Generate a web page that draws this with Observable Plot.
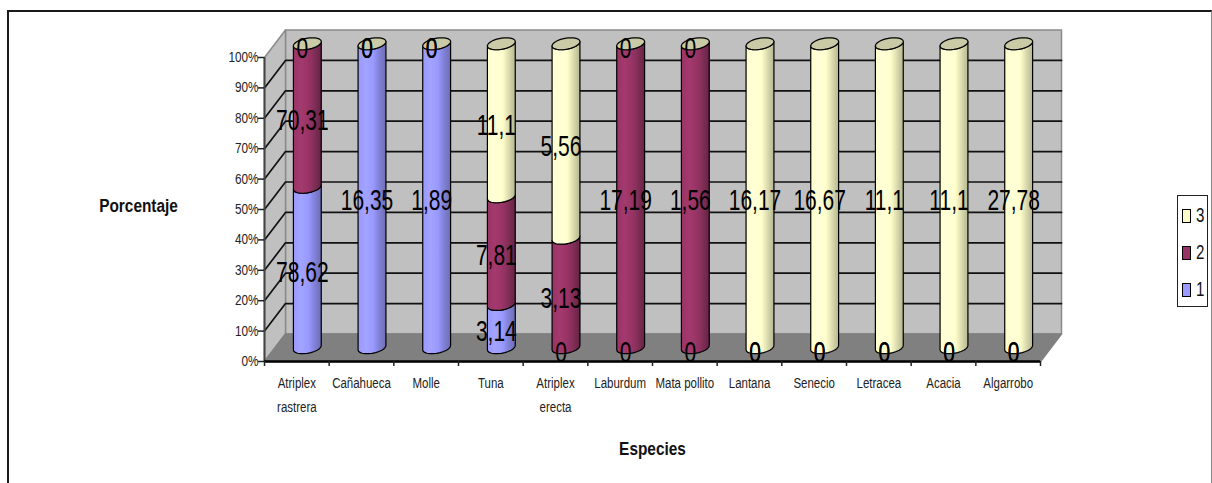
<!DOCTYPE html>
<html>
<head>
<meta charset="utf-8">
<script src="https://cdn.jsdelivr.net/npm/d3@7"></script>
<script src="https://cdn.jsdelivr.net/npm/@observablehq/plot@0.6"></script>
<style>
  html, body { margin: 0; background: #fff; }
  #chart { position: relative; width: 1212px; height: 483px; overflow: hidden; }
  #chart svg { display: block; position: absolute; left: 0; top: 0; }
  #border { position: absolute; left: 7px; top: 10px; right: 0; bottom: -5px;
            border-top: 2px solid #1a1a1a; border-left: 2px solid #1a1a1a; border-right: 1px solid #888; }
  #chart svg text { font-family: "Liberation Sans", Arial, sans-serif; }
  #legend { position: absolute; left: 1177px; top: 195px; width: 29px; height: 110px;
            border: 1px solid #222; background: #fff; z-index: 2;
            font: 21px "Liberation Sans", Arial, sans-serif; color: #111; }
  #legend i { position: absolute; left: 4px; width: 7px; height: 12px; border: 1px solid #000; }
  #legend b { position: absolute; left: 18px; font-weight: normal; line-height: 20px; transform: scaleX(0.72); transform-origin: left center; }
</style>
</head>
<body>
<div id="chart">
  <div id="border"></div>
  <div id="legend"></div>
</div>
<script>
// Species on the horizontal axis, one array of percentages per series.
const especies = ["Atriplex\nrastrera", "Cañahueca", "Molle", "Tuna", "Atriplex\nerecta", "Laburdum",
                  "Mata pollito", "Lantana", "Senecio", "Letracea", "Acacia", "Algarrobo"];
const serie1 = [78.62, 16.35, 1.89, 3.14, 0, 0, 0, 0, 0, 0, 0, 0];
const serie2 = [70.31, 0, 0, 7.81, 3.13, 17.19, 1.56, 0, 0, 0, 0, 0];
const serie3 = [0, 0, 0, 11.1, 5.56, 0, 0, 16.17, 16.67, 11.1, 11.1, 27.78];
const nombres = ["1", "2", "3"];
const series = [serie1, serie2, serie3];

const colores = [
  {id: "g1", main: "#9999ff", light: "#a3a3ff", mid: "#8585dd", dark: "#6c6cb4"},
  {id: "g2", main: "#993366", light: "#a33a6e", mid: "#85305a", dark: "#672345"},
  {id: "g3", main: "#ffffcc", light: "#ffffd8", mid: "#e3e3b6", dark: "#b6b690"}
];

const marginLeft = 264, marginTop = 57, plotWidth = 776, plotHeight = 304;

// The box has a depth: one unit of depth moves a point right and up, in scale units.
const bandPx = plotWidth / 12, unitPy = plotHeight / 100;
const depthX = 21 / bandPx, depthY = 27.5 / unitPy;
const project = (x, y, d) => ({x: x + d * depthX, y: y + d * depthY});

// Cross-section of a cylinder: a circle on the floor plane seen obliquely.
const rx = 13 / bandPx, skewX = 5 / bandPx, skewY = 6 / unitPy;
const ringPoint = (i, y, t) => ({
  x: i + 0.5 + 0.5 * depthX + Math.cos(t) * rx + Math.sin(t) * skewX,
  y: y + 0.5 * depthY + Math.sin(t) * skewY
});
const tLeft = Math.PI + Math.atan2(5, 13);
const arc = (i, y, from, to) => d3.range(0, 13).map(k => ringPoint(i, y, from + (to - from) * k / 12));

// Percentage-stacked segments for each species.
const tramos = series.map(() => []);
const etiquetas = [];
especies.forEach((_, i) => {
  const total = d3.sum(series, s => s[i]);
  let acum = 0;
  series.forEach((s, k) => {
    const y0 = acum, y1 = acum + (s[i] / total) * 100;
    acum = y1;
    etiquetas.push({i, y: (y0 + y1) / 2, texto: String(s[i]).replace(".", ",")});
    if (s[i] > 0) {
      const pts = [...arc(i, y0, tLeft, tLeft + Math.PI), ...arc(i, y1, tLeft + Math.PI, tLeft)];
      pts.push(pts[0]);
      tramos[k].push(...pts.map(p => ({...p, z: i})));
    }
  });
});

// Top caps of the cylinders.
const tapas = especies.flatMap((_, i) =>
  d3.range(0, 37).map(k => ({...ringPoint(i, 100, (k / 36) * 2 * Math.PI), z: i})));

// Walls and floor of the box.
const paredFondo = [project(0, 0, 1), project(12, 0, 1), project(12, 100, 1), project(0, 100, 1), project(0, 0, 1)];
const paredIzq = [project(0, 0, 0), project(0, 0, 1), project(0, 100, 1), project(0, 100, 0), project(0, 0, 0)];
const suelo = [project(0, 0, 0), project(12, 0, 0), project(12, 0, 1), project(0, 0, 1), project(0, 0, 0)];
const marcas = d3.range(10, 100, 10);
const rejilla = marcas.flatMap(v => [project(0, v, 0), project(0, v, 1), project(12, v, 1)].map(p => ({...p, z: v})));

// Gradient definitions that give the cylinders their vertical shading.
const gradientes = () => {
  const defs = d3.create("svg:defs");
  colores.forEach(c => {
    const g = defs.append("linearGradient").attr("id", c.id).attr("x1", 0).attr("x2", 1).attr("y1", 0).attr("y2", 0);
    [[0, c.main], [0.28, c.light], [0.55, c.main], [0.72, c.mid], [1, c.dark]].forEach(([o, col]) =>
      g.append("stop").attr("offset", o).attr("stop-color", col));
  });
  return defs.node();
};

const chart = Plot.plot({
  width: 1212,
  height: 483,
  marginLeft,
  marginTop,
  marginRight: 1212 - marginLeft - plotWidth,
  marginBottom: 483 - marginTop - plotHeight,
  style: {background: "transparent", overflow: "visible"},
  x: {type: "linear", domain: [0, 12]},
  y: {type: "linear", domain: [0, 100]},
  marks: [
    gradientes,
    Plot.line(paredFondo, {x: "x", y: "y", fill: "#c0c0c0", stroke: "#8a8a8a", strokeWidth: 1.5}),
    Plot.line(paredIzq, {x: "x", y: "y", fill: "#c0c0c0", stroke: "#8a8a8a", strokeWidth: 1.5}),
    Plot.line(suelo, {x: "x", y: "y", fill: "#808080", stroke: "#808080"}),
    Plot.line(rejilla, {x: "x", y: "y", z: "z", stroke: "#111", strokeWidth: 1.7}),
    ...tramos.map((t, k) => Plot.line(t, {x: "x", y: "y", z: "z", fill: `url(#${colores[k].id})`, stroke: "#000", strokeWidth: 1.2})),
    Plot.line(tapas, {x: "x", y: "y", z: "z", fill: "#cacaa6", stroke: "#000", strokeWidth: 1.2}),
    // Axes along the front edge of the box.
    Plot.ruleX([0], {y1: 0, y2: 100, stroke: "#444", strokeWidth: 2}),
    Plot.ruleY([0], {x1: 0, x2: 12, stroke: "#000", strokeWidth: 2.5}),
    Plot.axisY({ticks: d3.range(0, 101, 10), tickFormat: d => d + "%", label: null, tickSize: 6, tickPadding: 0,
                fontSize: 14, stroke: "#222", strokeWidth: 1.5, className: "estrecho-84", fill: "#222"}),
    Plot.axisX({ticks: d3.range(0, 13), tickFormat: () => "", label: null, tickSize: 5, stroke: "#222", strokeWidth: 1.5}),
    Plot.text(especies, {x: (_, i) => i + 0.5, y: 0, dy: 10, text: d => d, lineAnchor: "top", lineHeight: 1.7,
                         fontSize: 14, fill: "#222", className: "estrecho-82"}),
    // Axis titles.
    Plot.text(["Porcentaje"], {frameAnchor: "left", dx: -126, dy: -3, textAnchor: "middle", text: d => d,
                               fontSize: 17.5, fontWeight: "bold", fill: "#111", className: "estrecho-88"}),
    Plot.text(["Especies"], {x: 6, y: 0, dy: 88, text: d => d, fontSize: 17.5, fontWeight: "bold",
                             fill: "#111", className: "estrecho-88"}),
    // Values printed on each segment.
    Plot.text(etiquetas, {x: d => d.i + 0.5 + 0.5 * depthX, y: d => d.y + 0.5 * depthY, text: "texto", dx: -5, dy: 5,
                          fontSize: 30, fill: "#000", className: "estrecho-70"})
  ]
});
document.getElementById("chart").appendChild(chart);

// Condense text horizontally: the chart's type is a tall, narrow cut.
const condense = (cls, factor) => {
  chart.querySelectorAll(`.${cls} text`).forEach(t => {
    const lines = t.querySelectorAll("tspan");
    (lines.length ? lines : [t]).forEach(n => {
      n.setAttribute("textLength", n.getComputedTextLength() * factor);
      n.setAttribute("lengthAdjust", "spacingAndGlyphs");
    });
  });
};
condense("estrecho-84", 0.84);
condense("estrecho-82", 0.82);
condense("estrecho-88", 0.88);
condense("estrecho-70", 0.70);

// Series legend, last series on top.
const legend = document.getElementById("legend");
[2, 1, 0].forEach((k, row) => {
  const swatch = document.createElement("i");
  swatch.style.top = (13 + row * 37) + "px";
  swatch.style.background = colores[k].main;
  const label = document.createElement("b");
  label.style.top = (9 + row * 37) + "px";
  label.textContent = nombres[k];
  legend.append(swatch, label);
});
</script>
</body>
</html>
